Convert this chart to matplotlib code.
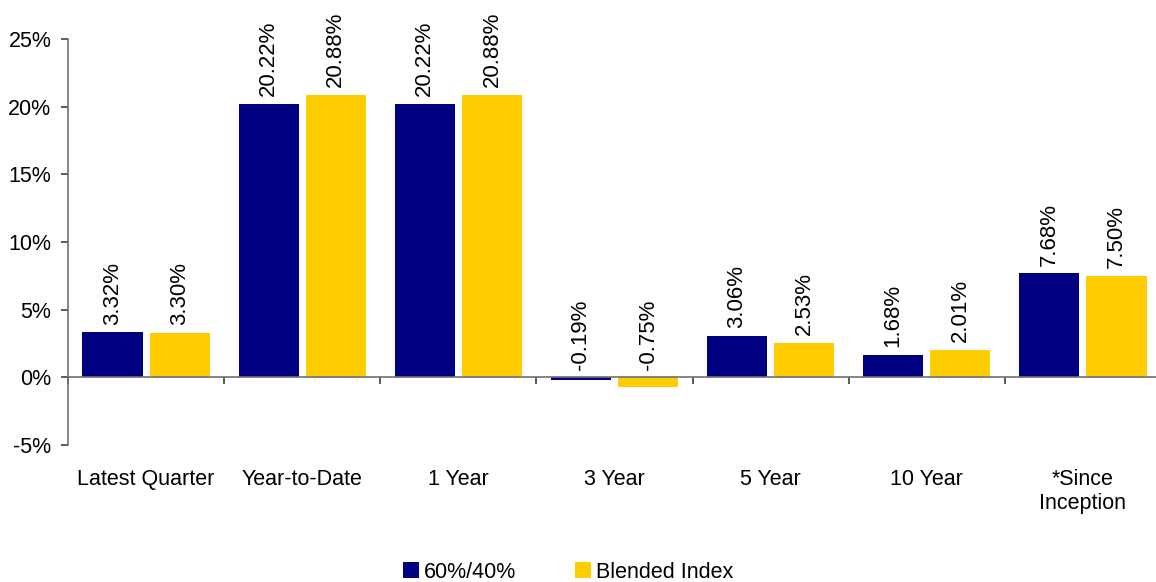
import matplotlib.pyplot as plt
import numpy as np

categories = ['Latest Quarter', 'Year-to-Date', '1 Year', '3 Year', '5 Year', '10 Year', '*Since\nInception']
fund = [3.32, 20.22, 20.22, -0.19, 3.06, 1.68, 7.68]
blended = [3.30, 20.88, 20.88, -0.75, 2.53, 2.01, 7.50]
series_names = ['60%/40%', 'Blended Index']
yticks = [-5, 0, 5, 10, 15, 20, 25]

plt.rcParams['font.family'] = ['Liberation Sans', 'DejaVu Sans']
plt.rcParams['font.size'] = 15.5

fig = plt.figure(figsize=(11.56, 5.82), dpi=100)
ax = fig.add_axes([68 / 1156, 1 - 445 / 582, (1161 - 68) / 1156, (445 - 39) / 582])

x = np.arange(len(categories)) + 0.5
w = 0.385
off = 0.215
b1 = ax.bar(x - off, fund, w, color='#000080', label=series_names[0])
b2 = ax.bar(x + off, blended, w, color='#FFCC00', label=series_names[1])

for bars, vals in ((b1, fund), (b2, blended)):
    for rect, v in zip(bars, vals):
        ax.annotate(f'{v:.2f}%', (rect.get_x() + rect.get_width() / 2, max(v, 0)),
                    xytext=(0, 5.5), textcoords='offset points',
                    rotation=90, ha='center', va='bottom', fontsize=16)

ax.set_xlim(0, len(categories))
ax.set_ylim(-5, 25)
ax.set_yticks(yticks)
ax.set_yticklabels([f'{t}%' for t in yticks])

ax.spines['top'].set_visible(False)
ax.spines['right'].set_visible(False)
ax.spines['bottom'].set_position(('data', 0))
for s in ('left', 'bottom'):
    ax.spines[s].set_color('#707070')
    ax.spines[s].set_linewidth(1.2)

ax.set_xticks(x)
ax.set_xticklabels(categories, va='top', linespacing=1.2)
ax.set_xticks(np.arange(len(categories) + 1), minor=True)
ax.tick_params(axis='x', which='major', length=0, pad=66)
ax.tick_params(axis='x', which='minor', length=5, direction='out', color='#404040', width=1.2)
ax.tick_params(axis='y', length=5, direction='out', color='#404040', width=1.2, pad=7)

fig.legend(loc='center', bbox_to_anchor=(568 / 1156, 1 - 572 / 582), ncol=2, frameon=False,
           handlelength=0.75, handleheight=0.75, handletextpad=0.2, columnspacing=2.75,
           fontsize=15.5)

fig.savefig('out.png', dpi=100)
